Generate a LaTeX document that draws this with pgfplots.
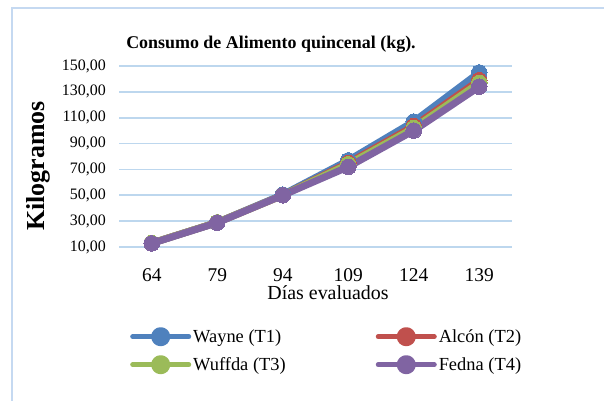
\documentclass[border=0pt]{standalone}
\usepackage{pgfplots}
\pgfplotsset{compat=1.18}
\usepackage{fontspec}
\setmainfont{Liberation Serif}
\definecolor{cB}{HTML}{4F81BD}
\definecolor{cR}{HTML}{C0504D}
\definecolor{cG}{HTML}{9BBB59}
\definecolor{cP}{HTML}{8064A2}
\definecolor{gridc}{HTML}{BDD7EE}
\definecolor{framec}{HTML}{C5D9F1}
\begin{document}
\begin{tikzpicture}
\useasboundingbox (0,0) rectangle (604bp,401bp);
\fill[white] (0,0) rectangle (604bp,401bp);
\draw[framec, line width=2bp] (11.5bp,-20bp) -- (11.5bp,393bp) -- (640bp,393bp);
\node[font=\bfseries\fontsize{18}{20}\selectfont, inner sep=0pt] at (271bp,357bp) {Consumo de Alimento quincenal (kg).};
\node[font=\bfseries\fontsize{26}{28}\selectfont, inner sep=0pt, rotate=90] at (38bp,235bp) {Kilogramos};
\node[font=\fontsize{20}{22}\selectfont, inner sep=0pt] at (328bp,108.5bp) {Días evaluados};
\begin{axis}[
  at={(119bp,154bp)}, anchor=south west,
  width=393bp, height=181bp, scale only axis,
  clip=false,
  xmin=-0.5, xmax=5.5, ymin=10, ymax=150,
  xtick={0,1,2,3,4,5},
  xticklabels={64,79,94,109,124,139},
  ytick={10,30,50,70,90,110,130,150},
  axis line style={draw=none},
  major tick length=0pt,
  ymajorgrids,
  grid style={gridc, line width=1.8bp},
  /pgf/number format/assume math mode=true,
  /pgf/number format/fixed,
  /pgf/number format/fixed zerofill,
  /pgf/number format/precision=2,
  /pgf/number format/use comma,
  /pgf/number format/1000 sep={},
  yticklabel style={font=\fontsize{16}{18}\selectfont, inner sep=0pt, anchor=east, xshift=-13bp},
  xticklabel style={font=\fontsize{19.5}{21}\selectfont, inner sep=0pt, anchor=center, yshift=-28bp},
  legend columns=2,
  legend cell align=left,
  legend style={draw=none, fill=none, at={(0.028,-0.442)}, anchor=north west,
    font=\fontsize{18.5}{20}\selectfont, inner sep=0pt,
    row sep=9bp,
    /tikz/every even column/.append style={column sep=88bp}},
  legend image code/.code={
    \draw[line width=5bp, line cap=round] (0bp,0bp) -- (56bp,0bp);
    \fill (28bp,0bp) circle (6bp);
  },
  every axis plot/.append style={line width=7bp, mark=*, mark size=7.8bp, line join=round},
]
\addplot[cB, mark options={fill=cB, draw=cB, line width=0pt}] coordinates {(0,13) (1,29) (2,50.5) (3,77) (4,107) (5,145)};
\addlegendentry{Wayne (T1)}
\addplot[cR, mark options={fill=cR, draw=cR, line width=0pt}] coordinates {(0,13) (1,29) (2,50) (3,75) (4,103.5) (5,139)};
\addlegendentry{Alcón (T2)}
\addplot[cG, mark options={fill=cG, draw=cG, line width=0pt}] coordinates {(0,13) (1,29) (2,50) (3,74) (4,102) (5,137)};
\addlegendentry{Wuffda (T3)}
\addplot[cP, mark options={fill=cP, draw=cP, line width=0pt}] coordinates {(0,12.8) (1,28.8) (2,50) (3,72) (4,100) (5,134)};
\addlegendentry{Fedna (T4)}
\end{axis}
\end{tikzpicture}
\end{document}
